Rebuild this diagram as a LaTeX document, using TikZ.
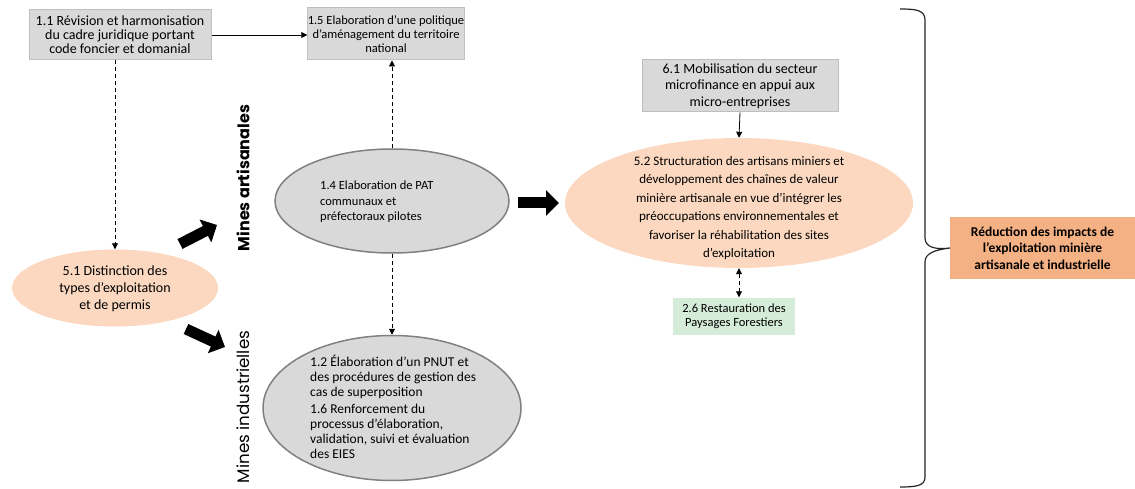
\documentclass[tikz,border=0pt]{standalone}
\usepackage{fontspec}
\setmainfont{Carlito}
\newfontfamily\gothic{Poppins}
\usetikzlibrary{arrows.meta,shapes.geometric,calc}
\definecolor{boxgray}{HTML}{D9D9D9}
\definecolor{boxline}{HTML}{BFBFBF}
\definecolor{ellline}{HTML}{808080}
\definecolor{peach}{HTML}{FBD8BF}
\definecolor{mint}{HTML}{D5EDD8}
\definecolor{orange}{HTML}{F4B183}
\tikzset{
  graybox/.style={draw=boxline, line width=1pt, fill=boxgray, align=center, inner sep=0pt},
  grayell/.style={ellipse, draw=ellline, line width=1.5pt, fill=boxgray, inner sep=0pt},
  peachell/.style={ellipse, fill=peach, inner sep=0pt},
  txt/.style={align=left, inner sep=0pt},
  solidarr/.style={-{Triangle[length=6pt,width=6pt]}, line width=0.8pt},
  dasharr/.style={-{Triangle[length=6pt,width=6pt]}, line width=0.8pt, dash pattern=on 4pt off 3pt},
  blockarr/.style={line width=11pt, -{Triangle[length=13pt,width=25pt]}, black},
  minelabel/.style={rotate=90, inner sep=0pt}
}
\begin{document}
\begin{tikzpicture}[x=1pt,y=-1pt]
\useasboundingbox (0,0) rectangle (1135,489);
% boxes
\node[graybox, minimum width=182pt, minimum height=50pt, font=\fontsize{14}{14}\selectfont] (b11) at (120,35)
  {1.1 Révision et harmonisation\\du cadre juridique portant\\code foncier et domanial};
\node[graybox, minimum width=155pt, minimum height=52pt, font=\fontsize{12.5}{14}\selectfont] (b15) at (386,34)
  {1.5 Elaboration d’une politique\\d’aménagement du territoire\\national};
\node[graybox, minimum width=196pt, minimum height=52pt, font=\fontsize{14}{16.5}\selectfont] (b61) at (740,86)
  {6.1 Mobilisation du secteur\\microfinance en appui aux\\micro-entreprises};
\node[fill=mint, minimum width=122pt, minimum height=37pt, align=center, inner sep=0pt,
  font=\fontsize{12.5}{14}\selectfont] (b26) at (734,316)
  {2.6 Restauration des\\Paysages Forestiers};
\node[fill=orange, minimum width=185pt, minimum height=62pt, align=center, inner sep=0pt,
  font=\fontsize{13.5}{16.5}\selectfont\bfseries] (res) at (1042.5,248)
  {Réduction des impacts de\\l’exploitation minière\\artisanale et industrielle};
% ellipses
\node[peachell, minimum width=206pt, minimum height=77pt] (e51) at (115,288) {};
\node[txt, align=center, font=\fontsize{14}{17}\selectfont] (t51) at (115,289) {5.1 Distinction des\\types d’exploitation\\et de permis};
\node[grayell, minimum width=234pt, minimum height=104pt] (e14) at (392,201) {};
\node[txt, anchor=west, font=\fontsize{12.5}{15.5}\selectfont] (t14) at (320,202) {1.4 Elaboration de PAT\\communaux et\\préfectoraux pilotes};
\node[grayell, minimum width=258pt, minimum height=145pt] (e12) at (392,408) {};
\node[txt, anchor=west, font=\fontsize{13.5}{15}\selectfont] (t12) at (310,407) {1.2 Élaboration d’un PNUT et\\des procédures de gestion des\\cas de superposition\\[2pt]1.6 Renforcement du\\processus d’élaboration,\\validation, suivi et évaluation\\des EIES};
\node[peachell, minimum width=348pt, minimum height=130pt] (e52) at (739,203) {};
\node[align=center, inner sep=0pt, font=\fontsize{13}{18.5}\selectfont] (t52) at (739,208)
  {5.2 Structuration des artisans miniers et\\développement des chaînes de valeur\\minière artisanale en vue d’intégrer les\\préoccupations environnementales et\\favoriser la réhabilitation des sites\\d’exploitation};
% side labels
\node[minelabel, font=\gothic\fontsize{16}{18}\selectfont\bfseries] (ma) at (243,178) {Mines artisanales};
\node[minelabel, font=\gothic\fontsize{16.7}{19}\selectfont] (mi) at (243,407) {Mines industrielles};
% connectors
\draw[solidarr] (b11.east) -- (b11.east -| b15.west);
\draw[dasharr] (b11.south -| e51.north) -- (e51.north);
\draw[dasharr] (e14.north) -- (e14.north |- b15.south);
\draw[dasharr] (e14.south) -- (e12.north);
\draw[solidarr] (b61.south) -- (e52.north);
\draw[dasharr, {Triangle[length=6pt,width=6pt]}-{Triangle[length=6pt,width=6pt]}] (e52.south) -- (e52.south |- b26.north);
% block arrows
\coordinate (ua1) at (180,244);
\coordinate (ua2) at (217,225);
\coordinate (la1) at (186,329);
\coordinate (la2) at (225,347);
\coordinate (ha1) at (518,203);
\coordinate (ha2) at (559,203);
\draw[blockarr] (ua1) -- (ua2);
\draw[blockarr] (la1) -- (la2);
\draw[blockarr] (ha1) -- (ha2);
% brace
\coordinate (tip) at (res.west);
\draw[line width=1.2pt, line join=round, draw=black!85]
  (900,9) .. controls (916,9) and (925,10) .. (925,20)
  -- (925,238) .. controls (925,247) and (935,250) .. (tip)
  .. controls (935,250) and (925,253) .. (925,262)
  -- (925,477) .. controls (925,486) and (916,487) .. (900,487);
\end{tikzpicture}
\end{document}
